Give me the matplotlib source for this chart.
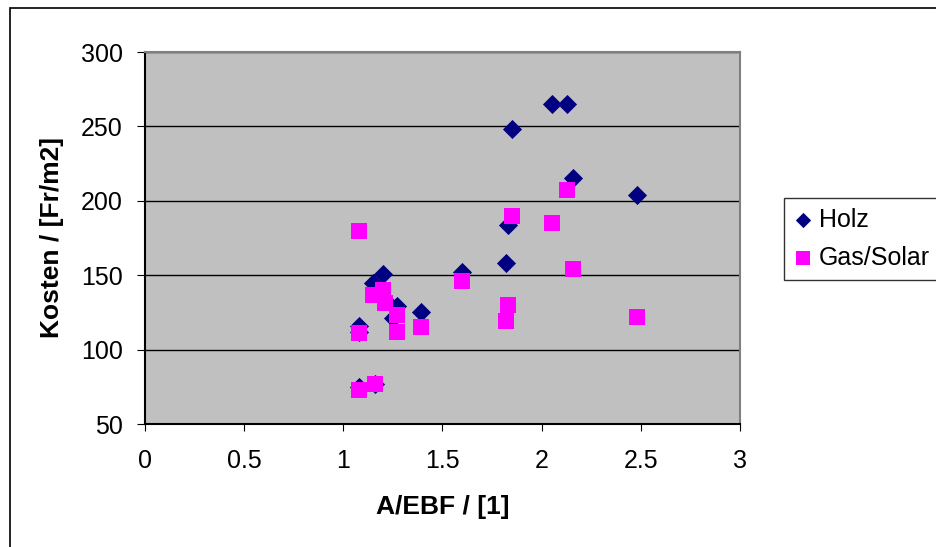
import matplotlib.pyplot as plt
from matplotlib.patches import Rectangle

plt.rcParams['font.family'] = ['Liberation Sans', 'DejaVu Sans']

# Holz series (A/EBF, Kosten)
holz_x = [1.08, 1.08, 1.08, 1.15, 1.16, 1.20, 1.21, 1.25, 1.27, 1.39, 1.60,
          1.82, 1.83, 1.85, 2.05, 2.13, 2.16, 2.48]
holz_y = [75, 116, 112, 145, 77, 151, 133, 121, 129, 125, 152,
          158, 184, 248, 265, 265, 215, 204]

# Gas/Solar series
gas_x = [1.08, 1.08, 1.08, 1.15, 1.16, 1.20, 1.21, 1.27, 1.27, 1.39, 1.60,
         1.82, 1.83, 1.85, 2.05, 2.13, 2.16, 2.48]
gas_y = [180, 111, 73, 137, 77, 140, 131, 123, 112, 115, 146,
         119, 130, 190, 185, 207, 154, 122]

fig = plt.figure(figsize=(9.37, 5.47), dpi=100)
ax = fig.add_axes([145/937, 1-424/547, (740-145)/937, (424-52)/547])
ax.set_facecolor('#C0C0C0')

ax.scatter(holz_x, holz_y, marker='D', s=95, color='#000080', label='Holz', zorder=3, linewidths=0)
ax.scatter(gas_x, gas_y, marker='s', s=145, color='#FF00FF', label='Gas/Solar', zorder=4, linewidths=0)

ax.set_xlim(0, 3)
ax.set_ylim(50, 300)
ax.set_xticks([0, 0.5, 1, 1.5, 2, 2.5, 3])
ax.set_xticklabels(['0', '0.5', '1', '1.5', '2', '2.5', '3'])
ax.set_yticks([50, 100, 150, 200, 250, 300])
ax.yaxis.grid(True, color='black', linewidth=1)
ax.set_axisbelow(True)
ax.tick_params(axis='x', labelsize=18, direction='out', length=5, color='black', pad=13)
ax.tick_params(axis='y', labelsize=18, direction='out', length=6, color='black', pad=10)
for s in ax.spines.values():
    s.set_color('#808080')
    s.set_linewidth(1.5)
ax.spines['left'].set_color('black')
ax.spines['bottom'].set_color('black')

ax.set_xlabel('A/EBF / [1]', fontsize=19, fontweight='bold', va='center')
ax.set_ylabel('Kosten / [Fr/m2]', fontsize=19, fontweight='bold', va='center')
ax.xaxis.set_label_coords(0.5, (424-507)/372)
ax.yaxis.set_label_coords((52-145)/595, 0.5)

leg = ax.legend(loc='upper left', bbox_to_anchor=(1.074, 0.6075), fontsize=18,
                frameon=True, fancybox=False, borderaxespad=0, handletextpad=0.3,
                handlelength=0.7, labelspacing=0.55, borderpad=0.4, markerscale=0.8)
leg.get_frame().set_edgecolor('black')
leg.get_frame().set_linewidth(1)

fig.patches.append(Rectangle((10/937, -0.1), 1.0, 1-8/547+0.1, transform=fig.transFigure,
                             fill=False, edgecolor='black', linewidth=1.2))

fig.savefig('out.png', dpi=100)
